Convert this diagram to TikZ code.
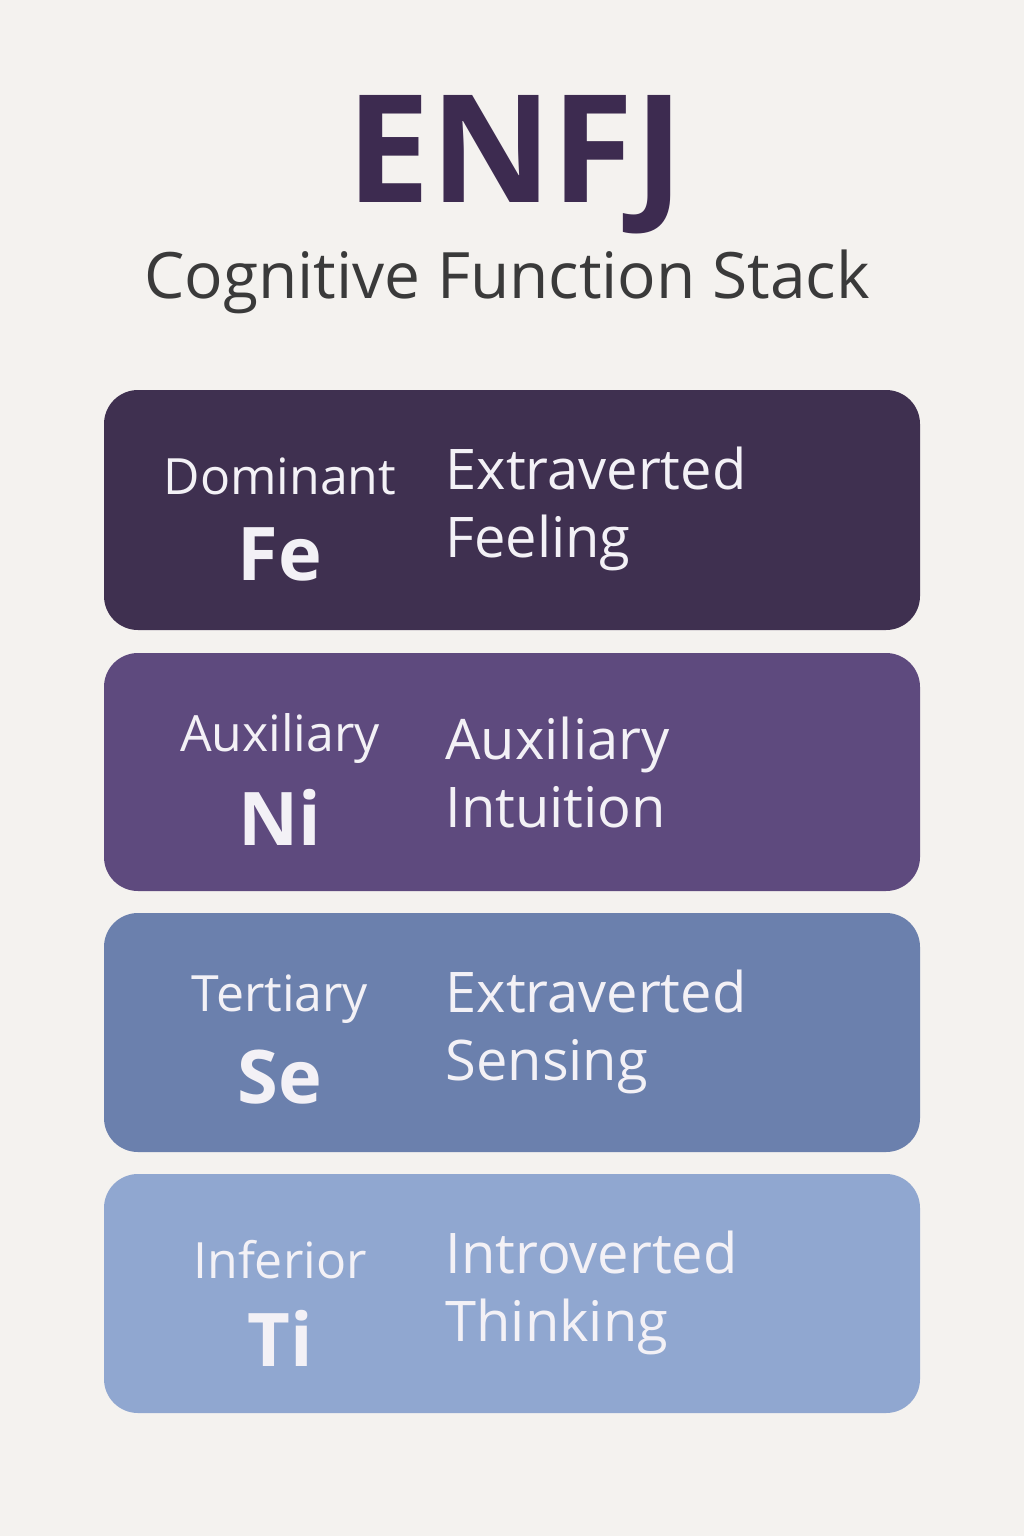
\documentclass[tikz,border=0pt]{standalone}
\usepackage{fontspec}
\setmainfont{Open Sans}
\definecolor{bg}{HTML}{F4F2EF}
\definecolor{titlec}{HTML}{3D2B50}
\definecolor{subc}{HTML}{3A3A3A}
\definecolor{c1}{HTML}{3F3050}
\definecolor{c2}{HTML}{5E4A7E}
\definecolor{c3}{HTML}{6B80AD}
\definecolor{c4}{HTML}{90A7D0}
\definecolor{txt}{HTML}{F3F1F6}
\begin{document}
\begin{tikzpicture}[x=1pt,y=-1pt,
  box/.style={rounded corners=34pt,inner sep=0},
  role/.style={text=txt,font=\fontsize{50}{50}\selectfont,anchor=center},
  code/.style={text=txt,font=\fontsize{74}{74}\selectfont\bfseries,anchor=center},
  desc/.style={text=txt,font=\fontsize{56}{68}\selectfont,anchor=west,align=left}]
\fill[bg] (0,0) rectangle (1024,1536);
\node[text=titlec,font=\fontsize{150}{150}\selectfont\bfseries] (title) at (515,165) {ENFJ};
\node[text=subc,font=\fontsize{64}{64}\selectfont] (sub) at (507,282) {Cognitive Function Stack};
\foreach \n/\c/\ya/\yb/\r/\k/\da/\db in {
  1/c1/390/630/Dominant/Fe/Extraverted/Feeling,
  2/c2/653/891/Auxiliary/Ni/Auxiliary/Intuition,
  3/c3/913/1152/Tertiary/Se/Extraverted/Sensing,
  4/c4/1174/1413/Inferior/Ti/Introverted/Thinking}{
  \fill[\c,rounded corners=34pt] (104,\ya) rectangle (920,\yb);
  \node[role] (r\n) at (280,{\ya+86}) {\r};
  \node[code] (k\n) at (280,{\ya+164}) {\k};
  \node[desc] (d\n) at (442,{\ya+119}) {\da\\\db};
}
\end{tikzpicture}
\end{document}
